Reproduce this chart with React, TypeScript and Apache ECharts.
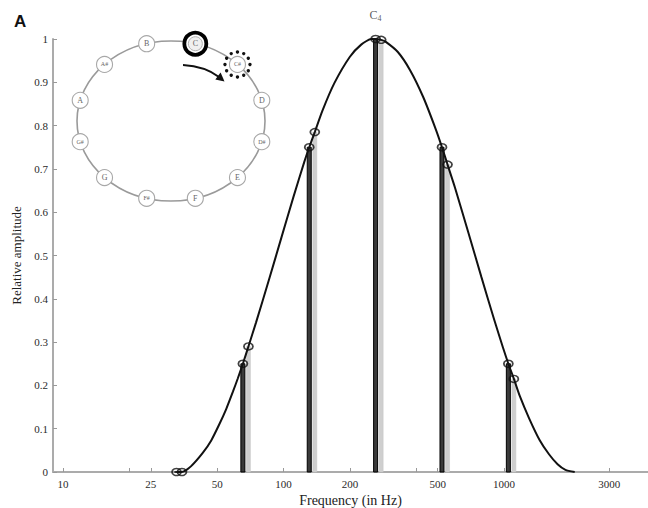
import { useEffect, useRef } from "react";
import * as echarts from "echarts";

// Spectral envelope (frequency in Hz, relative amplitude)
const curveFreq = [32.7, 34.6, 38, 43, 47, 51, 55, 59, 62, 65.4, 69.3, 75, 86, 98, 111, 124, 130.8, 138.6, 150, 170, 200, 225, 250, 261.6, 277.2, 290, 330, 375, 430, 490, 523.3, 554.4, 600, 690, 790, 900, 990, 1046.5, 1108.7, 1180, 1300, 1450, 1600, 1750, 1900, 2093];
const curveAmp = [0, 0, 0.013, 0.044, 0.073, 0.109, 0.146, 0.186, 0.216, 0.25, 0.29, 0.345, 0.445, 0.543, 0.636, 0.715, 0.75, 0.785, 0.834, 0.898, 0.959, 0.987, 1.0, 1.0, 0.998, 0.994, 0.97, 0.928, 0.866, 0.792, 0.75, 0.71, 0.656, 0.552, 0.45, 0.354, 0.287, 0.25, 0.215, 0.175, 0.124, 0.074, 0.041, 0.018, 0.005, 0];

// Partials of the tone C (black) and C# (grey)
const cFreq = [32.7, 65.4, 130.8, 261.6, 523.3, 1046.5];
const cAmp = [0, 0.25, 0.75, 1.0, 0.75, 0.25];
const csFreq = [34.6, 69.3, 138.6, 277.2, 554.4, 1108.7];
const csAmp = [0, 0.29, 0.785, 0.998, 0.71, 0.215];

// Axes
const xTickLabels = [10, 25, 50, 100, 200, 500, 1000, 3000];
const xExtraTicks = [20, 400];
const xMin = 9.0;
const xMax = 4500;
const yTicks = [0, 0.1, 0.2, 0.3, 0.4, 0.5, 0.6, 0.7, 0.8, 0.9, 1];

// Chromatic circle inset
const noteNames = ["C", "C#", "D", "D#", "E", "F", "F#", "G", "G#", "A", "A#", "B"];

const SERIF = "'Liberation Serif', 'DejaVu Serif', serif";

function buildInset(): any[] {
  const cx = 171, cy = 121, rx = 94, ry = 80;
  const els: any[] = [];
  els.push({
    type: "ellipse",
    shape: { cx, cy, rx, ry },
    style: { fill: "none", stroke: "#9a9a9a", lineWidth: 1.6 },
    z: 10,
  });
  noteNames.forEach((n, i) => {
    const ang = ((15 + 30 * i) * Math.PI) / 180;
    const x = cx + rx * Math.sin(ang);
    const y = cy - ry * Math.cos(ang);
    if (n === "C") {
      els.push({ type: "circle", shape: { cx: x, cy: y, r: 11 }, style: { fill: "#fff", stroke: "#000", lineWidth: 3.8 }, z: 11 });
      els.push({ type: "circle", shape: { cx: x, cy: y, r: 7 }, style: { fill: "#f0f0f0", stroke: "#b0b0b0", lineWidth: 1 }, z: 12 });
    } else {
      if (n === "C#") {
        for (let k = 0; k < 12; k++) {
          const a = (k * 30 * Math.PI) / 180;
          els.push({ type: "circle", shape: { cx: x + 12.5 * Math.cos(a), cy: y + 12.5 * Math.sin(a), r: 1.7 }, style: { fill: "#111" }, z: 12 });
        }
      }
      els.push({ type: "circle", shape: { cx: x, cy: y, r: 8 }, style: { fill: "#fff", stroke: "#a8a8a8", lineWidth: 1.1 }, z: 11 });
    }
    els.push({
      type: "text",
      x,
      y,
      style: { text: n, fontSize: n.length > 1 ? 6 : 8, fontFamily: SERIF, fill: "#666", align: "center", verticalAlign: "middle" },
      z: 13,
    });
  });
  // arrow from C towards C#
  els.push({
    type: "bezierCurve",
    shape: { x1: 183, y1: 65, cpx1: 199, cpy1: 66, cpx2: 210, cpy2: 70, x2: 219, y2: 77 },
    style: { fill: "none", stroke: "#111", lineWidth: 2 },
    z: 12,
  });
  els.push({
    type: "polygon",
    shape: { points: [[224.5, 81.5], [215.3, 79.6], [220.6, 72.6]] },
    style: { fill: "#111" },
    z: 12,
  });
  // panel letter
  els.push({
    type: "text",
    left: 14,
    top: 13,
    style: { text: "A", fontSize: 17, fontWeight: "bold", fontFamily: "'Liberation Sans', Arial, sans-serif", fill: "#111" },
    z: 13,
  });
  return els;
}

export default function App() {
  const ref = useRef<HTMLDivElement>(null);
  useEffect(() => {
    document.body.style.margin = "0";
    const chart = echarts.init(ref.current!, null, { renderer: "svg" });
    const lg = (f: number) => Math.log10(f);
    const barItem = (isC: boolean) => (params: any, api: any) => {
      const x = api.value(0);
      const y = api.value(1);
      const top = api.coord([x, y]);
      const base = api.coord([x, 0]);
      return {
        type: "rect",
        shape: { x: top[0] - 2, y: top[1], width: 4, height: base[1] - top[1] },
        style: isC ? { fill: "#3a3a3a", stroke: "#000", lineWidth: 1 } : { fill: "#cfcfcf", stroke: "#c4c4c4", lineWidth: 0.5 },
      };
    };
    const markerData: any[] = [];
    cFreq.forEach((f, i) => {
      const item: any = { value: [lg(f), cAmp[i]] };
      if (f === 261.6) {
        item.label = {
          show: true,
          position: "top",
          distance: 12,
          formatter: "{c|C}{s|4}",
          rich: {
            c: { fontSize: 12, fontFamily: SERIF, color: "#333" },
            s: { fontSize: 8, fontFamily: SERIF, color: "#333", padding: [8, 0, 0, 0] },
          },
        };
      }
      markerData.push(item);
    });
    csFreq.forEach((f, i) => markerData.push({ value: [lg(f), csAmp[i]] }));

    chart.setOption({
      animation: false,
      grid: { left: 53, right: 0, top: 39, bottom: 36, outerBoundsMode: "none", containLabel: false },
      xAxis: {
        type: "value",
        min: lg(xMin),
        max: lg(xMax),
        name: "Frequency (in Hz)",
        nameLocation: "middle",
        nameGap: 18,
        nameTextStyle: { fontFamily: SERIF, fontSize: 14, color: "#222" },
        axisLine: { show: true, onZero: false, lineStyle: { color: "#ababab", width: 2 } },
        axisTick: { show: true, inside: true, length: 4, lineStyle: { color: "#999" }, customValues: [...xTickLabels, ...xExtraTicks].map(lg) },
        axisLabel: {
          customValues: xTickLabels.map(lg),
          margin: 6,
          fontFamily: SERIF,
          fontSize: 11,
          color: "#2a2a2a",
          formatter: (v: number) => String(Math.round(Math.pow(10, v))),
        },
        splitLine: { show: false },
      },
      yAxis: {
        type: "value",
        min: 0,
        max: 1,
        interval: 0.1,
        name: "Relative amplitude",
        nameLocation: "middle",
        nameGap: 28,
        nameTextStyle: { fontFamily: SERIF, fontSize: 13, color: "#222" },
        axisLine: { show: true, lineStyle: { color: "#ababab", width: 2 } },
        axisTick: { show: true, inside: true, length: 4, lineStyle: { color: "#999" }, customValues: yTicks },
        axisLabel: {
          customValues: yTicks,
          margin: 5,
          fontFamily: SERIF,
          fontSize: 11,
          color: "#2a2a2a",
          formatter: (v: number) => String(+v.toFixed(1)),
        },
        splitLine: { show: false },
      },
      series: [
        {
          type: "custom",
          name: "C partials",
          renderItem: barItem(true),
          data: cFreq.map((f, i) => [lg(f), cAmp[i]]),
          z: 2,
          silent: true,
        },
        {
          type: "custom",
          name: "C# partials",
          renderItem: barItem(false),
          data: csFreq.map((f, i) => [lg(f), csAmp[i]]),
          z: 1,
          silent: true,
        },
        {
          type: "line",
          name: "Envelope",
          data: curveFreq.map((f, i) => [lg(f), curveAmp[i]]),
          showSymbol: false,
          smooth: 0.2,
          lineStyle: { color: "#111", width: 2 },
          z: 3,
          silent: true,
        },
        {
          type: "scatter",
          name: "Partials",
          data: markerData,
          symbol: "circle",
          symbolSize: [9, 7],
          itemStyle: { color: "rgba(255,255,255,0)", borderColor: "#111", borderWidth: 1.6 },
          z: 4,
          silent: true,
        },
      ],
      graphic: { elements: buildInset() },
    });
    return () => chart.dispose();
  }, []);
  return <div ref={ref} style={{ position: "absolute", left: 0, top: 0, width: 648, height: 508 }} />;
}
